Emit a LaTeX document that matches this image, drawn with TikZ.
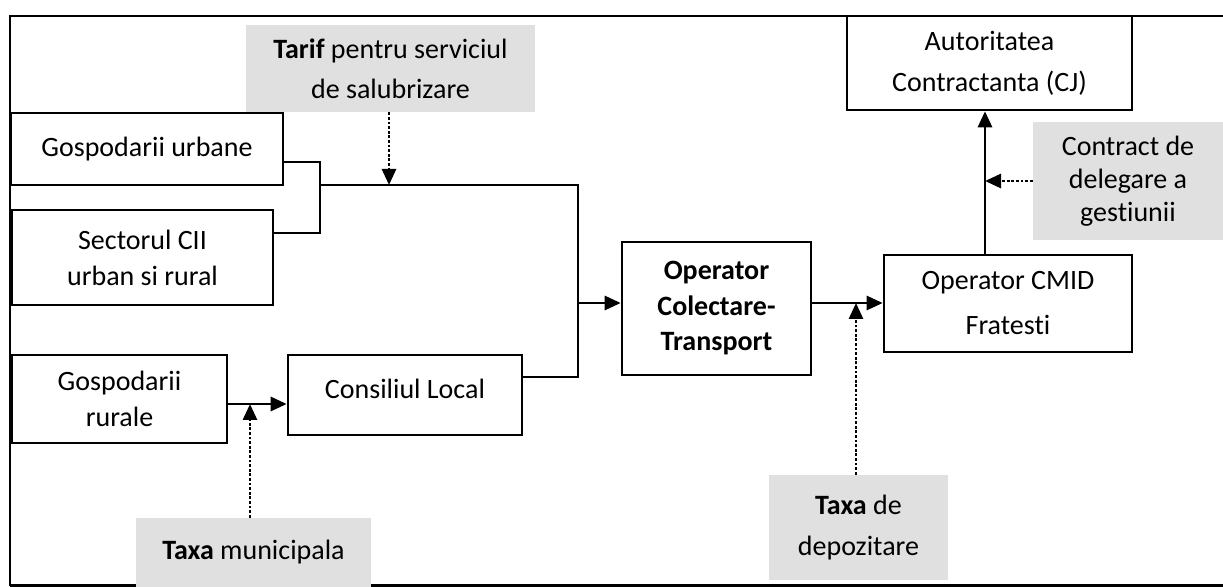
\documentclass[tikz,border=0pt]{standalone}
\usepackage{fontspec}
\setmainfont[Ligatures=NoCommon]{Carlito}
\usetikzlibrary{arrows.meta,positioning}

\begin{document}
\begin{tikzpicture}[x=0.5pt,y=-0.5pt,
    font=\fontsize{14}{18}\selectfont,
    box/.style={draw, line width=1.3pt, inner sep=0pt, align=center},
    note/.style={fill=black!12, inner sep=0pt, align=center},
    flow/.style={line width=1.4pt, -{Triangle[length=8pt,width=7pt]}},
    link/.style={line width=1.4pt},
    hint/.style={line width=1.4pt, dash pattern=on 1.4pt off 0.9pt,
                 -{Triangle[length=8pt,width=7pt]}}]
    \useasboundingbox (0,0) rectangle (1223,587);
    \draw[line width=1.1pt] (10,586) -- (10,16) -- (1223,16);
    \draw[line width=1.1pt] (10,585.5) -- (1223,585.5);

    \node[box, minimum width=136pt, minimum height=36pt] (urb) at (147,149) {\raisebox{2pt}{Gospodarii urbane}};
    \node[box, minimum width=130.5pt, minimum height=47.5pt] (cii) at (142.5,257.5) {Sectorul CII\\urban si rural};
    \node[box, minimum width=107.5pt, minimum height=44pt] (rur) at (119.5,399) {Gospodarii\\rurale};
    \node[box, minimum width=117pt, minimum height=40pt] (cl) at (405,395) {\raisebox{6pt}{Consiliul Local}};
    \node[box, minimum width=94.5pt, minimum height=66.5pt, font=\fontsize{14}{17.75}\selectfont\bfseries] (colt) at (716.5,308.5) {Operator\\Colectare-\\Transport};
    \node[box, minimum width=124pt, minimum height=48.5pt] (cmid) at (1008,303.5) {Operator CMID\\[4.5pt]Fratesti};
    \node[box, minimum width=142.5pt, minimum height=47pt] (aut) at (989.5,63) {Autoritatea\\[2.5pt]Contractanta (CJ)};

    \node[note, minimum width=144.5pt, minimum height=43.5pt] (tarif) at (390.5,68.5) {\textbf{Tarif} pentru serviciul\\[2pt]de salubrizare};
    \node[note, minimum width=95pt, minimum height=59pt, font=\fontsize{14}{16.5}\selectfont] (contr) at (1128,181) {Contract de\\delegare a\\gestiunii};
    \node[note, minimum width=117.5pt, minimum height=34.5pt] (tmun) at (253.5,552.5) {\textbf{Taxa} municipala};
    \node[note, minimum width=89.5pt, minimum height=52.5pt] (tdep) at (858.5,527.5) {\textbf{Taxa} de\\[2.5pt]depozitare};

    \coordinate (bt) at (320,162);
    \coordinate (bb) at (320,233);
    \coordinate (jm) at (320,185);
    \coordinate (jr) at (578,185);
    \coordinate (jl) at (578,377);
    \coordinate (ja) at (578,303);
    \coordinate (tt) at (389,185);
    \coordinate (tm) at (250,404);
    \coordinate (td) at (856,303);
    \coordinate (tc) at (985,181);

    \draw[link] (urb.east |- bt) -- (bt) -- (bb) -- (cii.east |- bb);
    \draw[link] (cl.east |- jl) -- (jl) -- (jr) -- (jm);
    \draw[flow] (ja) -- (colt.west |- ja);
    \draw[flow] (rur.east |- tm) -- (cl.west |- tm);
    \draw[flow] (colt.east |- td) -- (cmid.west |- td);
    \draw[flow] (cmid.north -| tc) -- (aut.south -| tc);

    \draw[hint] (tarif.south -| tt) -- (tt);
    \draw[hint] (tmun.north -| tm) -- (tm);
    \draw[hint] (tdep.north -| td) -- (td);
    \draw[hint] (contr.west |- tc) -- (tc);
\end{tikzpicture}
\end{document}
